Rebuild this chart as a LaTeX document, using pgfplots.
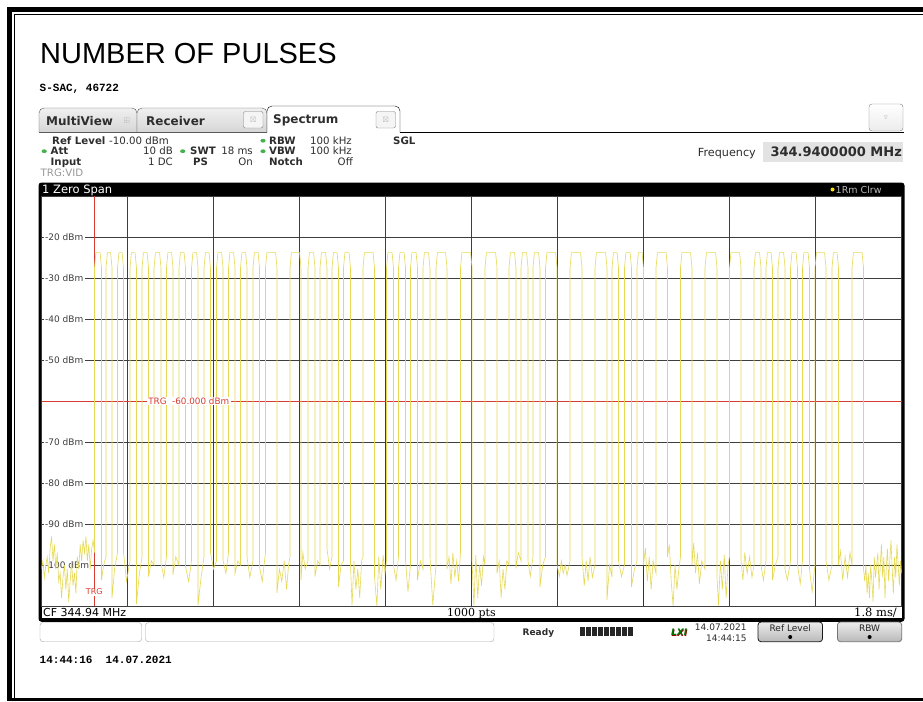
\documentclass[border=0pt]{standalone}
\usepackage{amssymb}
\usepackage{pgfplots}
\pgfplotsset{compat=1.18}
\usepackage{pgfplotstable}
\usepackage{fontspec}
\setmainfont{Liberation Sans}
\newfontfamily\dv{DejaVu Sans}
\newfontfamily\dvs{DejaVu Serif}
\newfontfamily\lmono{Liberation Mono}
\definecolor{trace}{RGB}{230,218,85}
\definecolor{trg}{RGB}{215,60,50}
\definecolor{gridc}{RGB}{62,62,62}
\definecolor{txt}{RGB}{45,45,45}
\definecolor{led}{RGB}{70,175,80}

\pgfplotstableread{
t p
0.000 -101
0.030 -99
0.060 -103
0.090 -100
0.120 -98
0.150 -102
0.180 -96
0.210 -93
0.240 -99
0.270 -95
0.300 -101
0.330 -97
0.360 -104
0.390 -102
0.420 -108
0.450 -103
0.480 -100
0.510 -106
0.540 -101
0.570 -109
0.600 -104
0.630 -99
0.660 -105
0.690 -102
0.720 -107
0.750 -98
0.780 -101
0.810 -95
0.840 -99
0.870 -94
0.900 -97
0.930 -93
0.960 -99
0.990 -95
1.020 -101
1.050 -96
1.080 -94
1.109 -97
1.109 -27.5
1.139 -23.8
1.226 -23.8
1.256 -27.5
1.256 -103.7
1.300 -100
1.350 -98
1.350 -27.5
1.380 -23.8
1.446 -23.8
1.476 -27.5
1.476 -108
1.530 -101
1.591 -97
1.591 -27.5
1.621 -23.8
1.686 -23.8
1.716 -27.5
1.716 -97
1.780 -104
1.852 -99
1.852 -27.5
1.882 -23.8
1.958 -23.8
1.988 -27.5
1.988 -109.5
2.050 -102
2.104 -98
2.104 -27.5
2.134 -23.8
2.210 -23.8
2.240 -27.5
2.240 -102.8
2.300 -99
2.355 -100
2.355 -27.5
2.385 -23.8
2.471 -23.8
2.501 -27.5
2.501 -99.5
2.560 -103
2.616 -98
2.616 -27.5
2.646 -23.8
2.722 -23.8
2.752 -27.5
2.752 -102.4
2.810 -98
2.878 -100
2.878 -27.5
2.908 -23.8
2.984 -23.8
3.014 -27.5
3.014 -100.4
3.080 -104
3.140 -99
3.140 -27.5
3.170 -23.8
3.246 -23.8
3.276 -27.5
3.276 -109.8
3.340 -103
3.401 -98
3.401 -27.5
3.431 -23.8
3.507 -23.8
3.537 -27.5
3.537 -97
3.600 -101
3.663 -99
3.663 -27.5
3.693 -23.8
3.769 -23.8
3.799 -27.5
3.799 -98.8
3.860 -102
3.914 -97
3.914 -27.5
3.944 -23.8
4.020 -23.8
4.050 -27.5
4.050 -102
4.110 -99
4.165 -100
4.165 -27.5
4.195 -23.8
4.271 -23.8
4.301 -27.5
4.301 -98
4.360 -103
4.427 -99
4.427 -27.5
4.457 -23.8
4.533 -23.8
4.563 -27.5
4.563 -100.4
4.620 -104
4.688 -97
4.688 -27.5
4.718 -23.8
4.899 -23.8
4.929 -27.5
4.929 -106.8
4.980 -101
5.030 -104
5.080 -99
5.130 -106
5.170 -100
5.201 -98
5.201 -27.5
5.231 -23.8
5.401 -23.8
5.431 -27.5
5.431 -103.7
5.470 -97
5.520 -101
5.578 -99
5.578 -27.5
5.608 -23.8
5.694 -23.8
5.724 -27.5
5.724 -102.8
5.780 -99
5.829 -100
5.829 -27.5
5.859 -23.8
5.946 -23.8
5.976 -27.5
5.976 -96
6.030 -101
6.080 -98
6.080 -27.5
6.110 -23.8
6.186 -23.8
6.216 -27.5
6.216 -105.3
6.270 -100
6.321 -99
6.321 -27.5
6.351 -23.8
6.437 -23.8
6.467 -27.5
6.467 -100
6.500 -109.8
6.540 -99
6.580 -106
6.620 -101
6.660 -108
6.700 -99
6.729 -98
6.729 -27.5
6.759 -23.8
6.940 -23.8
6.970 -27.5
6.970 -103
7.020 -110
7.060 -98
7.100 -106
7.150 -97.6
7.190 -102
7.221 -99
7.221 -27.5
7.251 -23.8
7.337 -23.8
7.367 -27.5
7.367 -100
7.420 -103.7
7.472 -98
7.472 -27.5
7.502 -23.8
7.589 -23.8
7.619 -27.5
7.619 -99
7.670 -106.5
7.723 -100
7.723 -27.5
7.753 -23.8
7.840 -23.8
7.870 -27.5
7.870 -103.7
7.930 -99
7.985 -101
7.985 -27.5
8.015 -23.8
8.101 -23.8
8.131 -27.5
8.131 -98
8.190 -109.8
8.257 -100
8.257 -27.5
8.287 -23.8
8.457 -23.8
8.487 -27.5
8.487 -101
8.530 -98
8.570 -104.6
8.610 -97
8.650 -103
8.690 -99
8.730 -104
8.770 -97
8.770 -27.5
8.800 -23.8
8.981 -23.8
9.011 -27.5
9.011 -99
9.050 -110
9.090 -97.6
9.130 -108
9.170 -100
9.210 -105
9.250 -98
9.283 -100
9.283 -27.5
9.313 -23.8
9.504 -23.8
9.534 -27.5
9.534 -102
9.580 -99
9.620 -108
9.660 -101
9.700 -106
9.740 -99
9.785 -100
9.785 -27.5
9.815 -23.8
9.901 -23.8
9.931 -27.5
9.931 -100.8
9.980 -97
10.036 -99
10.036 -27.5
10.066 -23.8
10.153 -23.8
10.183 -27.5
10.183 -99
10.230 -102.8
10.287 -98
10.287 -27.5
10.317 -23.8
10.404 -23.8
10.434 -27.5
10.434 -105.3
10.490 -100
10.549 -98
10.549 -27.5
10.579 -23.8
10.760 -23.8
10.790 -27.5
10.790 -100
10.840 -102.8
10.880 -99
10.920 -102
10.960 -100
11.000 -102.5
11.062 -99
11.062 -27.5
11.092 -23.8
11.283 -23.8
11.313 -27.5
11.313 -98
11.360 -105
11.400 -99
11.440 -104
11.480 -98
11.530 -103
11.585 -100
11.585 -27.5
11.615 -23.8
11.806 -23.8
11.836 -27.5
11.836 -108.5
11.890 -100
11.941 -103
11.941 -27.5
11.971 -23.8
12.047 -23.8
12.077 -27.5
12.077 -99
12.140 -102.8
12.202 -100
12.202 -27.5
12.232 -23.8
12.319 -23.8
12.349 -27.5
12.349 -105.3
12.410 -101
12.464 -99
12.464 -27.5
12.494 -23.8
12.570 -23.8
12.600 -27.5
12.600 -100
12.640 -95.9
12.680 -104
12.720 -98
12.760 -106
12.800 -99
12.862 -102
12.862 -27.5
12.892 -23.8
13.072 -23.8
13.102 -27.5
13.102 -98
13.140 -95
13.180 -104
13.220 -110
13.260 -100
13.300 -106
13.340 -101
13.374 -98
13.374 -27.5
13.404 -23.8
13.585 -23.8
13.615 -27.5
13.615 -100
13.650 -94.6
13.690 -102
13.730 -97
13.770 -104.6
13.820 -99
13.887 -101
13.887 -27.5
13.917 -23.8
14.108 -23.8
14.138 -27.5
14.138 -103
14.170 -109.8
14.210 -99
14.250 -106
14.290 -97.5
14.330 -108
14.370 -100
14.400 -98
14.400 -27.5
14.430 -23.8
14.611 -23.8
14.641 -27.5
14.641 -99
14.680 -103.7
14.720 -97
14.770 -102
14.820 -98
14.870 -103
14.913 -100
14.913 -27.5
14.943 -23.8
15.029 -23.8
15.059 -27.5
15.059 -100
15.110 -103.7
15.164 -99
15.164 -27.5
15.194 -23.8
15.270 -23.8
15.300 -27.5
15.300 -103.7
15.360 -100
15.415 -98
15.415 -27.5
15.445 -23.8
15.532 -23.8
15.562 -27.5
15.562 -101
15.610 -103.7
15.677 -99
15.677 -27.5
15.707 -23.8
15.793 -23.8
15.823 -27.5
15.823 -100
15.880 -104.6
15.928 -99
15.928 -27.5
15.958 -23.8
16.044 -23.8
16.074 -27.5
16.074 -101
16.130 -106.5
16.190 -100
16.190 -27.5
16.220 -23.8
16.390 -23.8
16.420 -27.5
16.420 -99
16.480 -103.7
16.545 -100
16.545 -27.5
16.575 -23.8
16.651 -23.8
16.681 -27.5
16.681 -100
16.720 -96.6
16.770 -103.7
16.820 -98
16.870 -103
16.920 -97
16.964 -100
16.964 -27.5
16.994 -23.8
17.175 -23.8
17.205 -27.5
17.205 -101
17.230 -104
17.255 -100
17.280 -107
17.305 -102
17.330 -108
17.355 -100
17.380 -104
17.405 -109
17.430 -98
17.455 -103
17.480 -100
17.505 -97
17.530 -106
17.555 -100
17.580 -95
17.605 -103
17.630 -98
17.655 -108
17.680 -101
17.705 -96
17.730 -104
17.755 -99
17.780 -94
17.805 -101
17.830 -107
17.855 -98
17.880 -103
17.905 -95
17.930 -100
17.955 -105
17.980 -99
18.000 -102
}\pulses

\begin{document}
\begin{tikzpicture}[x=1pt,y=-1pt]
\useasboundingbox (0,0) rectangle (923,701);
\fill[white] (0,0) rectangle (923,701);
% outer frame
\fill[black] (7,7) rectangle (923,12);
\fill[black] (7,7) rectangle (12,701);
\fill[black] (7,697.5) rectangle (923,701);
\draw[black, line width=1pt] (14.5,14.5) -- (14.5,701);
\draw[black, line width=1pt] (14.5,14.5) -- (923,14.5);

% title
\node[anchor=base west, inner sep=0pt, font=\fontsize{29}{29}\selectfont] at (40,63.5) {NUMBER OF PULSES};
\node[anchor=base west, inner sep=0pt, font=\lmono\bfseries\fontsize{11}{11}\selectfont] at (39.5,91.5) {S-SAC, 46722};

% tabs
\draw[gray!70!black, top color=gray!12, bottom color=gray!32, rounded corners=5pt] (39,132) -- (39,108) -- (137,108) -- (137,132);
\draw[gray!70!black, top color=gray!12, bottom color=gray!32, rounded corners=5pt] (137,132) -- (137,108) -- (267,108) -- (267,132);
\draw[black, fill=white, rounded corners=5pt] (267,132.5) -- (267,106) -- (400,106) -- (400,132.5);
\draw[black, line width=0.8pt] (400,132.5) -- (904,132.5);
\draw[gray!70!black] (39,132) -- (267,132);
\node[anchor=base west, inner sep=0pt, font=\dv\bfseries\fontsize{12}{12}\selectfont, text=txt] at (46,125) {MultiView};
\node[anchor=center, inner sep=0pt, text=gray!60, font=\dv\fontsize{8}{8}\selectfont] at (127,120.5) {$\boxplus$};
\node[anchor=base west, inner sep=0pt, font=\dv\bfseries\fontsize{12}{12}\selectfont, text=txt] at (146,125) {Receiver};
\draw[gray, fill=gray!8, rounded corners=2pt] (243.5,111.5) rectangle (263,128);
\node[text=gray!60, font=\dv\fontsize{7}{7}\selectfont] at (253.2,119.8) {$\boxtimes$};
\node[anchor=base west, inner sep=0pt, font=\dv\bfseries\fontsize{12}{12}\selectfont, text=txt] at (273,123.5) {Spectrum};
\draw[gray, fill=gray!8, rounded corners=2pt] (376,111.5) rectangle (395.5,128);
\node[text=gray!60, font=\dv\fontsize{7}{7}\selectfont] at (385.7,119.8) {$\boxtimes$};
\draw[gray, top color=white, bottom color=gray!15, rounded corners=3pt] (869,104) rectangle (903,131);
\node[text=gray!70, font=\dv\fontsize{6}{6}\selectfont] at (886,117.5) {$\triangledown$};

% info block
\begin{scope}[every node/.style={inner sep=0pt, text=txt, font=\dv\fontsize{10.2}{10.2}\selectfont}]
\node[anchor=base west] at (52,144) {\bfseries Ref Level};
\node[anchor=base west] at (109,144) {-10.00 dBm};
\node[anchor=base west] at (50.5,154.5) {\bfseries Att};
\node[anchor=base east] at (173,154.5) {10 dB};
\node[anchor=base west] at (190,154.5) {\bfseries SWT};
\node[anchor=base east] at (253,154.5) {18 ms};
\node[anchor=base west] at (50.5,165) {\bfseries Input};
\node[anchor=base east] at (173,165) {1 DC};
\node[anchor=base west] at (193,165) {\bfseries PS};
\node[anchor=base east] at (253,165) {On};
\node[anchor=base west] at (269,144) {\bfseries RBW};
\node[anchor=base west] at (310,144) {100 kHz};
\node[anchor=base west] at (269,154.5) {\bfseries VBW};
\node[anchor=base west] at (310,154.5) {100 kHz};
\node[anchor=base west] at (269,165) {\bfseries Notch};
\node[anchor=base east] at (353,165) {Off};
\node[anchor=base west] at (393,144) {\bfseries SGL};
\node[anchor=base west, text=gray!80] at (40.5,176) {TRG:VID};
\end{scope}
\fill[led] (44.2,151.2) ellipse (2.6pt and 1.9pt);
\fill[led] (182.7,151.2) ellipse (2.6pt and 1.9pt);
\fill[led] (263,140.7) ellipse (2.6pt and 1.9pt);
\fill[led] (263,151.2) ellipse (2.6pt and 1.9pt);

\node[anchor=base east, inner sep=0pt, text=txt, font=\dv\fontsize{11.2}{11.2}\selectfont] at (756,156) {Frequency};
\fill[gray!22] (763,142) rectangle (903,161.5);
\node[anchor=base east, inner sep=0pt, text=txt, font=\dv\bfseries\fontsize{13}{13}\selectfont] at (902,156.5) {344.9400000 MHz};

% display frame
\fill[black, rounded corners=3pt] (38.5,182.5) rectangle (904.5,621.8);
\fill[white] (41.5,196) rectangle (901.5,618);
\node[anchor=base west, inner sep=0pt, text=white, font=\dv\fontsize{11.5}{11.5}\selectfont] at (42,193.5) {1 Zero Span};
\fill[yellow!85!orange] (832.5,189.5) circle (2pt);
\node[anchor=base west, inner sep=0pt, text=gray!55, font=\dv\fontsize{9.5}{9.5}\selectfont] at (835.5,193) {1Rm Clrw};

\begin{axis}[
  at={(41.5pt,-196pt)}, anchor=north west,
  width=860pt, height=410pt, scale only axis,
  xmin=0, xmax=18, ymin=-110, ymax=-10,
  xtick={1.8,3.6,5.4,7.2,9,10.8,12.6,14.4,16.2},
  ytick={-100,-90,-80,-70,-60,-50,-40,-30,-20},
  xticklabels={}, yticklabels={},
  major tick length=0pt,
  grid=major,
  grid style={gridc, line width=0.7pt},
  axis line style={gridc, line width=0.7pt},
  clip=true,
]
\foreach \v in {-20,-30,-40,-50,-70,-80,-90,-100} {
  \edef\temp{\noexpand\node[anchor=west, fill=white, inner xsep=1.5pt, inner ysep=0.5pt, text=gridc, font=\noexpand\dv\noexpand\fontsize{9}{9}\noexpand\selectfont] at (axis cs:0.04,\v) {\v\ dBm};}
  \temp
}
\draw[gridc, line width=0.7pt] (axis cs:0,-60) -- (axis cs:0.3,-60);
\draw[black!80, line width=1.6pt] (axis cs:12.6,-36) -- (axis cs:12.6,-110);
\draw[black!75, line width=1.4pt] (axis cs:14.4,-58.5) -- (axis cs:14.4,-110);
\draw[trg, line width=0.8pt] (axis cs:0,-60) -- (axis cs:18,-60);
\draw[trg, line width=0.9pt] (axis cs:1.105,-10) -- (axis cs:1.105,-110);
\addplot[trace, line width=0.6pt, mark=none] table[x=t, y=p] {\pulses};
\node[anchor=west, fill=white, inner xsep=1.5pt, inner ysep=0.5pt, text=trg, font=\dv\fontsize{8.8}{8.8}\selectfont] at (axis cs:2.2,-60) {TRG\ \ -60.000 dBm};
\node[fill=white, inner xsep=0.5pt, inner ysep=0.5pt, text=trg, font=\dv\fontsize{8}{8}\selectfont] at (axis cs:1.105,-106.6) {TRG};
\end{axis}

% bottom strip
\draw[gridc, line width=0.7pt] (41.5,606) -- (901.5,606);
\node[anchor=base west, inner sep=0pt, text=black, font=\dv\fontsize{11}{11}\selectfont] at (43,616.5) {CF 344.94 MHz};
\node[anchor=base, inner sep=0pt, text=black, font=\dvs\fontsize{11}{11}\selectfont] at (471.5,616.5) {1000 pts};
\node[anchor=base east, inner sep=0pt, text=black, font=\dvs\fontsize{11.5}{11.5}\selectfont] at (897,616.5) {1.8 ms/};

% status bar
\draw[gray!70, fill=white, rounded corners=3pt] (40,622.5) rectangle (141.7,641.7);
\draw[gray!70, fill=white, rounded corners=3pt] (145.5,622.5) rectangle (494,641.7);
\node[anchor=base west, inner sep=0pt, text=txt, font=\dv\bfseries\fontsize{9}{9}\selectfont] at (522.5,635) {Ready};
\foreach \i in {0,...,8} {\fill[black!85] (580+\i*6,627) rectangle (585.2+\i*6,636);}
\node[anchor=base west, inner sep=0pt, text=red!60!black, font=\dv\bfseries\itshape\fontsize{9}{9}\selectfont] at (671.5,636) {LXI};
\node[anchor=base west, inner sep=0pt, text=green!45!black, font=\dv\bfseries\itshape\fontsize{9}{9}\selectfont] at (671,635.5) {LXI};
\node[anchor=base east, inner sep=0pt, text=txt, font=\dv\fontsize{9}{9}\selectfont] at (746.7,630) {14.07.2021};
\node[anchor=base east, inner sep=0pt, text=txt, font=\dv\fontsize{9}{9}\selectfont] at (746.7,641) {14:44:15};
\draw[black!90, line width=0.8pt, top color=gray!15, bottom color=gray!55, rounded corners=3pt] (758,622) rectangle (822.5,641.7);
\node[anchor=base, inner sep=0pt, text=black!85, font=\dv\fontsize{9}{9}\selectfont] at (790.2,631) {Ref Level};
\fill[black] (790.2,637) circle (2pt);
\draw[black!55, line width=0.8pt, top color=gray!15, bottom color=gray!55, rounded corners=3pt] (837.5,622) rectangle (901.7,641.7);
\node[anchor=base, inner sep=0pt, text=black!85, font=\dv\fontsize{9}{9}\selectfont] at (869.6,631) {RBW};
\fill[black] (869.6,637) circle (2pt);

\node[anchor=base west, inner sep=0pt, font=\lmono\bfseries\fontsize{11}{11}\selectfont] at (39.5,663) {14:44:16\ \ 14.07.2021};
\end{tikzpicture}
\end{document}
